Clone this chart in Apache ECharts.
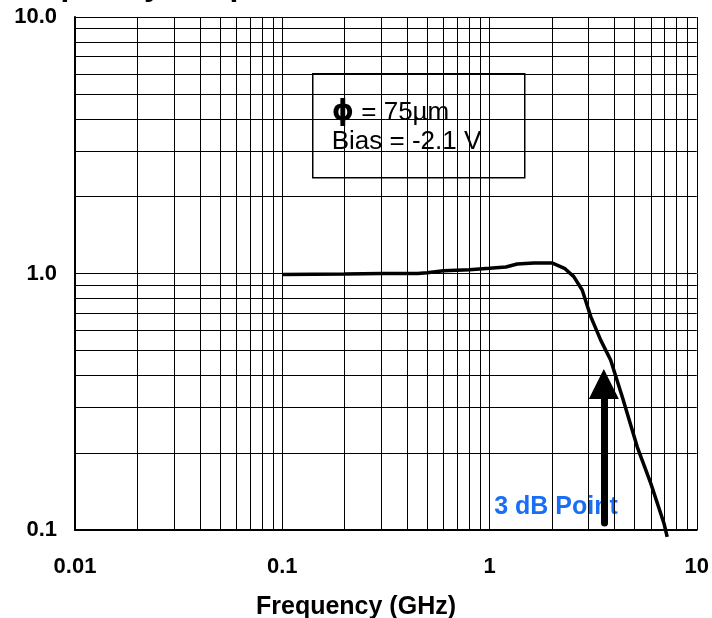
<!DOCTYPE html>
<html>
<head>
    <meta charset="UTF-8">
    <script src="https://cdn.jsdelivr.net/npm/echarts@6/dist/echarts.min.js"></script>
    <style>
        * {
            margin: 0;
            padding: 0;
        }

        body {
            background: #fff;
        }

        #main {
            width: 712px;
            height: 618px;
        }
    </style>
</head>
<body>
<div id="main"></div>
<script>
    // 频率响应数据 (GHz, 归一化响应)
    var freq = [0.1, 0.2, 0.3, 0.45, 0.5, 0.6, 0.8, 1.0, 1.2, 1.36, 1.64, 2.0, 2.3, 2.55, 2.8, 3.08, 3.44, 3.84, 4.37, 5.16, 6.0, 6.95, 7.2];
    var response = [0.99, 0.995, 1.0, 1.0, 1.007, 1.025, 1.035, 1.048, 1.06, 1.089, 1.1, 1.1, 1.048, 0.972, 0.862, 0.679, 0.55, 0.46, 0.331, 0.211, 0.152, 0.106, 0.094];

    // 刻度标签
    var xTickLabels = ['0.01', '0.1', '1', '10'];
    var yTickLabels = ['0.1', '1.0', '10.0'];

    // 次网格线 (每个十倍程内 2..9)
    var minorSteps = [2, 3, 4, 5, 6, 7, 8, 9];
    var xDecades = [0.01, 0.1, 1];
    var yDecades = [0.1, 1];

    // 3 dB 箭头
    var arrowX = 3.56;
    var arrowFrom = 0.1065;
    var arrowTo = 0.371;

    var minorX = [];
    xDecades.forEach(function (d) {
        minorSteps.forEach(function (s) { minorX.push(+(d * s).toPrecision(3)); });
    });
    var minorY = [];
    yDecades.forEach(function (d) {
        minorSteps.forEach(function (s) { minorY.push(+(d * s).toPrecision(3)); });
    });

    var font = "'Liberation Sans', Arial, sans-serif";

    var chartDom = document.getElementById('main');
    var myChart = echarts.init(chartDom);

    var option = {
        animation: false,
        textStyle: { fontFamily: font },
        title: {
            text: 'Frequency (GHz)',
            left: 'center',
            top: 590,
            textStyle: { fontSize: 25, fontWeight: 'bold', color: '#000', fontFamily: font }
        },
        grid: {
            left: 75,
            right: 15,
            top: 17,
            bottom: 88
        },
        xAxis: {
            type: 'log',
            logBase: 10,
            min: 0.01,
            max: 10,
            axisLine: { show: true, lineStyle: { color: '#000', width: 2 } },
            axisTick: { show: false },
            axisLabel: {
                margin: 26,
                fontSize: 22,
                fontWeight: 'bold',
                color: '#000',
                formatter: function (v) {
                    return xTickLabels[Math.round(Math.log10(v)) + 2];
                }
            },
            splitLine: { show: true, lineStyle: { color: '#000', width: 1 } }
        },
        yAxis: {
            type: 'log',
            logBase: 10,
            min: 0.1,
            max: 10,
            axisLine: { show: true, lineStyle: { color: '#000', width: 2 } },
            axisTick: { show: false },
            axisLabel: {
                margin: 18,
                fontSize: 22,
                fontWeight: 'bold',
                color: '#000',
                formatter: function (v) {
                    return yTickLabels[Math.round(Math.log10(v)) + 1];
                }
            },
            splitLine: { show: true, lineStyle: { color: '#000', width: 1 } }
        },
        series: [
            {
                name: 'minor grid',
                type: 'line',
                data: [],
                z: 1,
                silent: true,
                markLine: {
                    silent: true,
                    symbol: 'none',
                    label: { show: false },
                    lineStyle: { color: '#000', width: 1, type: 'solid' },
                    data: minorX.map(function (v) { return { xAxis: v }; })
                        .concat(minorY.map(function (v) { return { yAxis: v }; }))
                }
            },
            {
                name: 'Response',
                type: 'line',
                data: freq.map(function (f, i) { return [f, response[i]]; }),
                symbol: 'none',
                clip: false,
                z: 4,
                lineStyle: { color: '#000', width: 3.5 }
            },
            {
                name: 'arrow',
                type: 'line',
                data: [],
                z: 6,
                markLine: {
                    silent: true,
                    symbol: ['none', 'triangle'],
                    symbolSize: 30,
                    label: { show: false },
                    lineStyle: { color: '#000', width: 7, type: 'solid', cap: 'round' },
                    itemStyle: { color: '#000' },
                    data: [[{ coord: [arrowX, arrowFrom] }, { coord: [arrowX, arrowTo] }]]
                }
            }
        ],
        graphic: [
            {
                type: 'text',
                left: 0,
                top: -30,
                z: 10,
                style: {
                    text: 'Frequency Response',
                    font: 'bold 32px ' + font,
                    fill: '#000'
                }
            },
            {
                type: 'group',
                left: 312,
                top: 73,
                z: 10,
                children: [
                    {
                        type: 'rect',
                        shape: { x: 0, y: 0, width: 212, height: 104 },
                        style: { fill: '#fff', stroke: '#000', lineWidth: 1.5 }
                    },
                    {
                        type: 'text',
                        x: 19,
                        y: 39,
                        style: {
                            text: '{p|ϕ} = 75µm',
                            fill: '#000',
                            font: '26px ' + font,
                            verticalAlign: 'middle',
                            rich: {
                                p: { fontSize: 28, fontWeight: 'bold', fontFamily: "'DejaVu Sans', sans-serif" }
                            }
                        }
                    },
                    {
                        type: 'text',
                        x: 19,
                        y: 68,
                        style: {
                            text: 'Bias = -2.1 V',
                            fill: '#000',
                            font: '26px ' + font,
                            verticalAlign: 'middle'
                        }
                    }
                ]
            },
            {
                type: 'text',
                x: 556,
                y: 507,
                z: 3,
                style: {
                    text: '3 dB Point',
                    font: 'bold 25px ' + font,
                    fill: '#1a6ef5',
                    align: 'center',
                    verticalAlign: 'middle',
                    backgroundColor: '#fff'
                }
            }
        ]
    };

    myChart.setOption(option);
</script>
</body>
</html>
